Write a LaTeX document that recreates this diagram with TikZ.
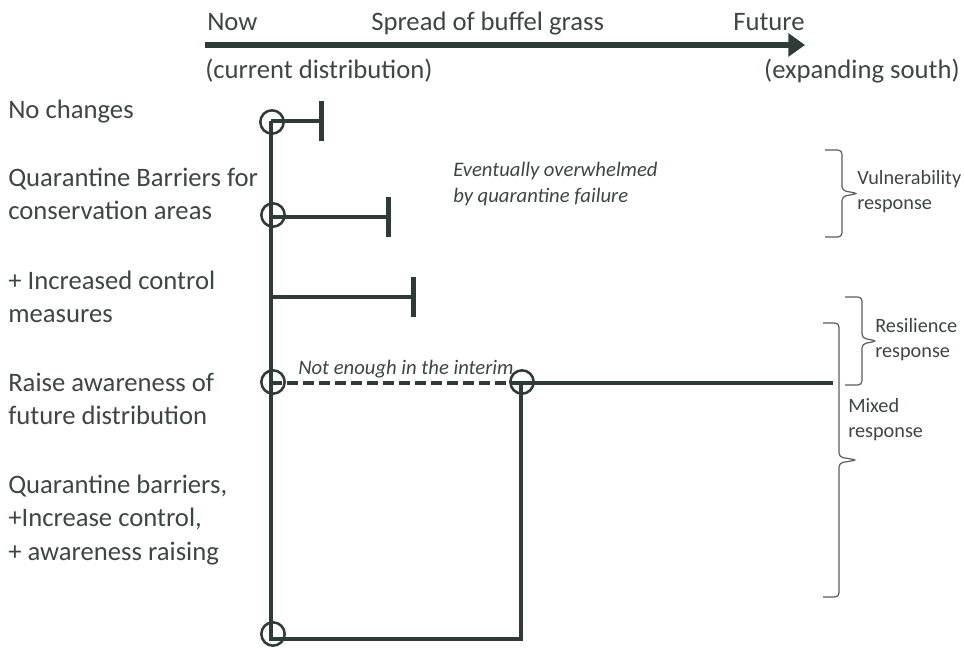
\documentclass[tikz,border=0pt]{standalone}
\usepackage{fontspec}
\setmainfont{Carlito}
\usetikzlibrary{arrows.meta,positioning}

\definecolor{linegray}{HTML}{2E3B36}
\definecolor{textgray}{HTML}{3D4642}
\definecolor{bracegray}{HTML}{5C5C5C}

\begin{document}
\begin{tikzpicture}[x=0.75pt,y=-0.75pt,
    head/.style={inner sep=0pt, text=textgray, font=\fontsize{20}{25}\selectfont},
    opt/.style={anchor=base west, align=left, inner sep=0pt, text=textgray, font=\fontsize{20}{25}\selectfont},
    note/.style={anchor=base west, align=left, inner sep=0pt, text=textgray, font=\fontsize{15.5}{19.5}\selectfont\itshape},
    resp/.style={anchor=base west, align=left, inner sep=0pt, text=textgray, font=\fontsize{15.2}{18.75}\selectfont},
    ring/.style={circle, draw=linegray, line width=1.9pt, minimum size=17.5pt, inner sep=0pt},
    track/.style={draw=linegray, line width=3.4pt},
    stopbar/.style={-{Bar[width=30pt]}},
    brc/.style={draw=bracegray, line width=0.9pt, rounded corners=3pt}]

    \useasboundingbox (0,0) rectangle (964,648);

    % time axis
    \coordinate (a0) at (205,45);
    \coordinate (a1) at (805,45);
    \draw[linegray, line width=4.5pt, -{Triangle[length=12.5pt,width=17pt]}] (a0) -- (a1);

    \node[head, anchor=base west] (now) at (207,31) {Now};
    \node[head, anchor=base west] (spread) at (371,31) {Spread of buffel grass};
    \node[head, anchor=base east] (future) at (805,31) {Future};
    \node[head, anchor=base west] (current) at (205,79) {(current distribution)};
    \node[head, anchor=base east] (south) at (960,79) {(expanding south)};

    % options (base = last line)
    \node[opt] (o1) at (8,119) {No changes};
    \node[opt] (o2) at (8,220) {Quarantine Barriers for\\conservation areas};
    \node[opt] (o3) at (8,323) {+ Increased control\\measures};
    \node[opt] (o4) at (8,425) {Raise awareness of\\future distribution};
    \node[opt] (o5) at (8,560) {Quarantine barriers,\\+Increase control,\\+ awareness raising};

    % pathways
    \coordinate (t1) at (271,121);
    \coordinate (t2) at (271,217);
    \coordinate (t3) at (271,297);
    \coordinate (t4) at (271,383);
    \coordinate (t5) at (521,383);
    \coordinate (bl) at (271,639);
    \coordinate (br) at (521,639);
    \coordinate (e1) at (324,121);
    \coordinate (e2) at (391,217);
    \coordinate (e3) at (416,297);
    \coordinate (e4) at (833,383);

    \draw[track, line join=miter] (t1) -- (bl) -- (br) -- (t5);
    \draw[track, stopbar] (t1) -- (e1);
    \draw[track, stopbar] (t2) -- (e2);
    \draw[track, stopbar] (t3) -- (e3);
    \draw[track, dash pattern=on 8pt off 4pt] (t4) -- (t5);
    \draw[track] (t5) -- (e4);

    \node[ring] (c1) at (272,122) {};
    \node[ring] (c2) at (273,215) {};
    \node[ring] (c4) at (273,382) {};
    \node[ring] (c5) at (522,382) {};
    \node[ring] (c6) at (273,634) {};

    \node[note] (n1) at (453,203) {Eventually overwhelmed\\by quarantine failure};
    \node[note] (n2) at (298,375) {Not enough in the interim};

    % responses
    \coordinate (v0) at (825,150);
    \coordinate (v1) at (825,237);
    \coordinate (r0) at (845,297);
    \coordinate (r1) at (845,385);
    \coordinate (m0) at (823,323);
    \coordinate (m1) at (823,597);
    \draw[brc] (v0) -- ++(17,0) -- ++(0,40.5) -- ++(16,3) -- ++(-16,3) |- (v1);
    \draw[brc] (r0) -- ++(17,0) -- ++(0,41) -- ++(15,3) -- ++(-15,3) |- (r1);
    \draw[brc] (m0) -- ++(16,0) -- ++(0,134) -- ++(18,3) -- ++(-18,3) |- (m1);

    \node[resp] (vul) at (857,210) {Vulnerability\\response};
    \node[resp] (res) at (875,358) {Resilience\\response};
    \node[resp] (mix) at (848,438) {Mixed\\response};
\end{tikzpicture}
\end{document}
